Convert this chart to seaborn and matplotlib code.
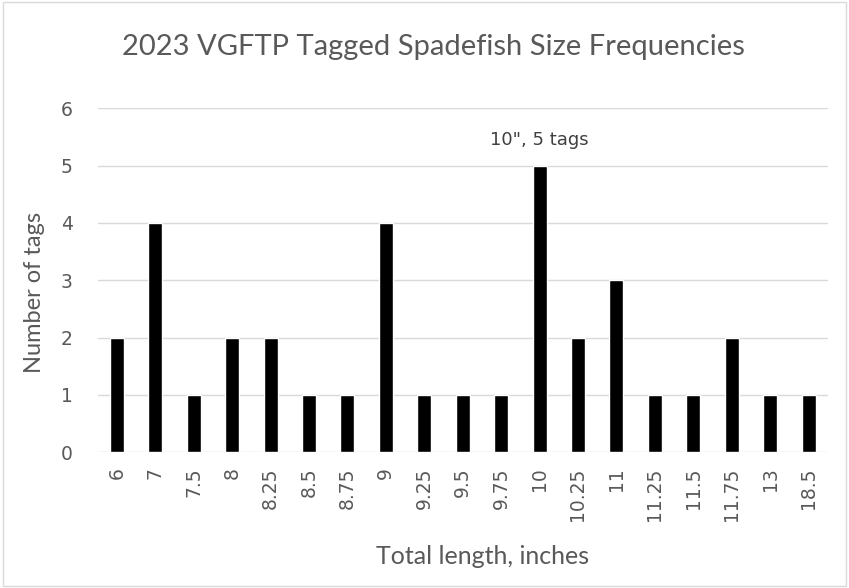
import pandas as pd
import matplotlib.pyplot as plt
import seaborn as sns

# Tagged fish counts by total length
lengths = ['6', '7', '7.5', '8', '8.25', '8.5', '8.75', '9', '9.25', '9.5',
           '9.75', '10', '10.25', '11', '11.25', '11.5', '11.75', '13', '18.5']
tags = [2, 4, 1, 2, 2, 1, 1, 4, 1, 1, 1, 5, 2, 3, 1, 1, 2, 1, 1]

df = pd.DataFrame({'length': lengths, 'tags': tags})

sns.set_style('white')
plt.rcParams['font.family'] = ['Lato', 'DejaVu Sans']

fig = plt.figure(figsize=(8.49, 5.88), dpi=100)
ax = fig.add_axes([0.115, 0.231, 0.86, 0.585])

sns.barplot(data=df, x='length', y='tags', color='black', width=0.365,
            saturation=1, ax=ax)

ax.set_ylim(0, 6)
ax.set_xlim(-0.5, len(lengths) - 0.5)
ax.grid(axis='y', color='#d9d9d9', linewidth=1)
ax.set_axisbelow(True)
sns.despine(ax=ax, left=True, bottom=True)

tick_font = {'family': 'DejaVu Sans', 'size': 13.5}
ax.set_xticks(range(len(lengths)))
ax.set_xticklabels(lengths, rotation=90, fontdict=tick_font, color='#595959')
ax.set_yticks(range(0, 7))
ax.set_yticklabels([str(v) for v in range(0, 7)], fontdict=tick_font, color='#595959')
ax.tick_params(axis='x', length=0, pad=11)
ax.tick_params(axis='y', length=0, pad=18)

ax.set_xlabel('Total length, inches', fontsize=18, color='#595959', va='center')
ax.xaxis.set_label_coords(0.527, -0.302)
ax.set_ylabel('Number of tags', fontsize=17, color='#595959', va='center', ha='center')
ax.yaxis.set_label_coords(-0.086, 0.465)
fig.suptitle('2023 VGFTP Tagged Spadefish Size Frequencies', fontsize=21,
             color='#595959', x=0.511, y=0.92, va='center')

# label on the tallest bar
i10 = lengths.index('10')
ax.annotate('10", 5 tags', xy=(i10, tags[i10]), xytext=(0, 12),
            textcoords='offset points', ha='center', va='bottom',
            fontsize=13, family='DejaVu Sans', color='#404040')

fig.patches.append(plt.Rectangle((0.003, 0.003), 0.994, 0.994, transform=fig.transFigure,
                                 fill=False, edgecolor='#d9d9d9', linewidth=1))

fig.savefig('out.png', dpi=100)
